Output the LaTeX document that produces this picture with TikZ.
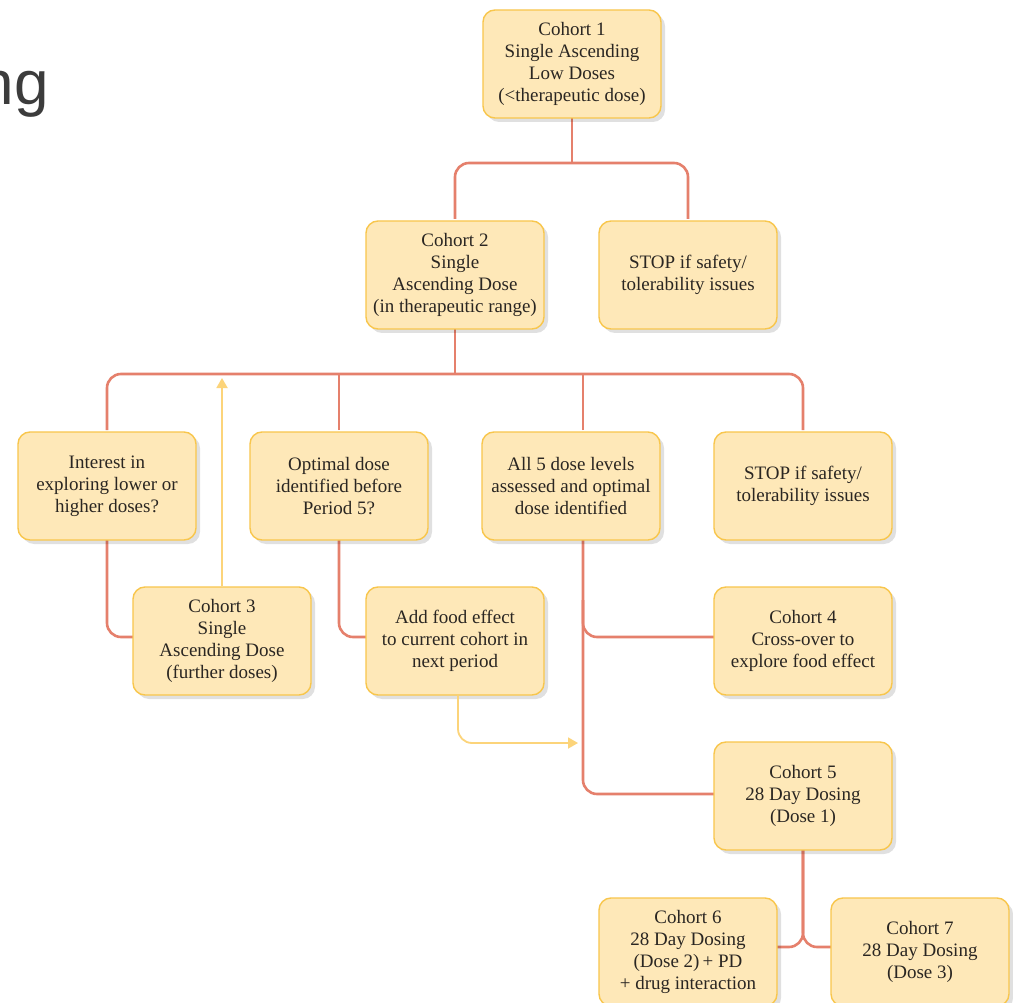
\documentclass[tikz,border=0pt]{standalone}
\usepackage{fontspec}
\newfontfamily\headfont{Liberation Sans}
\newfontfamily\boxfont{Liberation Serif}
\usetikzlibrary{shadows,arrows.meta}
\definecolor{boxfill}{HTML}{FEE8B8}
\definecolor{boxborder}{HTML}{F8C64C}
\definecolor{txt}{HTML}{2A2622}
\definecolor{linered}{HTML}{E5806C}
\definecolor{yline}{HTML}{FCD47A}
\definecolor{headgray}{HTML}{3C3C3C}
\tikzset{
  stepbox/.style={draw=boxborder, line width=1.4pt, fill=boxfill, rounded corners=12pt,
    minimum width=178pt, minimum height=108pt, align=center, text=txt, inner sep=2pt,
    font=\boxfont\fontsize{19}{22}\selectfont,
    drop shadow={shadow xshift=4pt, shadow yshift=-4pt, opacity=0.12, fill=black}},
  conn/.style={draw=linered, line width=2.6pt, rounded corners=14pt},
  yarrow/.style={draw=yline, line width=1.8pt, rounded corners=14pt,
    -{Triangle[width=11pt,length=10pt]}}
}
\begin{document}
\begin{tikzpicture}[x=1pt,y=-1pt]
\useasboundingbox (0,0) rectangle (1013,1003);
\clip (0,0) rectangle (1013,1003);
\fill[white] (0,0) rectangle (1013,1003);
\node[anchor=base east, inner sep=0pt, text=headgray, font=\headfont\fontsize{62}{70}\selectfont] (head) at (49,105) {ng};

\coordinate (j1) at (572,163);
\coordinate (j2) at (455,374);
\coordinate (a3) at (222,378);
\coordinate (a4) at (578,743);

% connectors
\draw[conn] (572,117) -- (j1);
\draw[conn] (455,219) |- (j1) -| (688,219);
\draw[conn] (455,327) -- (j2);
\draw[conn] (107,430) |- (j2) -| (803,430);
\draw[conn] (339,430) -- (339,374);
\draw[conn] (583,430) -- (583,374);
\draw[conn] (107,538) |- (133,637);
\draw[conn] (339,538) |- (366,637);
\draw[conn] (583,538) |- (714,637);
\draw[conn] (583,600) |- (714,794);
\draw[conn] (803,848) |- (777,947);
\draw[conn] (803,848) |- (831,947);

% nodes
\node[stepbox] (c1) at (572,64) {Cohort 1\\Single Ascending\\Low Doses\\(<therapeutic dose)};
\node[stepbox] (c2) at (455,275) {Cohort 2\\Single\\Ascending Dose\\(in therapeutic range)};
\node[stepbox] (stop1) at (688,275) {STOP if safety/\\tolerability issues};
\node[stepbox] (int) at (107,486) {Interest in\\exploring lower or\\higher doses?};
\node[stepbox] (opt) at (339,486) {Optimal dose\\identified before\\Period 5?};
\node[stepbox] (all5) at (571,486) {All 5 dose levels\\assessed and optimal\\dose identified};
\node[stepbox] (stop2) at (803,486) {STOP if safety/\\tolerability issues};
\node[stepbox] (c3) at (222,641) {Cohort 3\\Single\\Ascending Dose\\(further doses)};
\node[stepbox] (food) at (455,641) {Add food effect\\to current cohort in\\next period};
\node[stepbox] (c4) at (803,641) {Cohort 4\\Cross-over to\\explore food effect};
\node[stepbox] (c5) at (803,796) {Cohort 5\\28 Day Dosing\\(Dose 1)};
\node[stepbox] (c6) at (688,952) {Cohort 6\\28 Day Dosing\\(Dose 2)\,+ PD\\+ drug interaction};
\node[stepbox] (c7) at (920,952) {Cohort 7\\28 Day Dosing\\(Dose 3)};

% yellow arrows
\draw[yarrow] (c3.north) -- (a3);
\draw[yarrow] ([xshift=3pt]food.south) |- (a4);
\end{tikzpicture}
\end{document}
